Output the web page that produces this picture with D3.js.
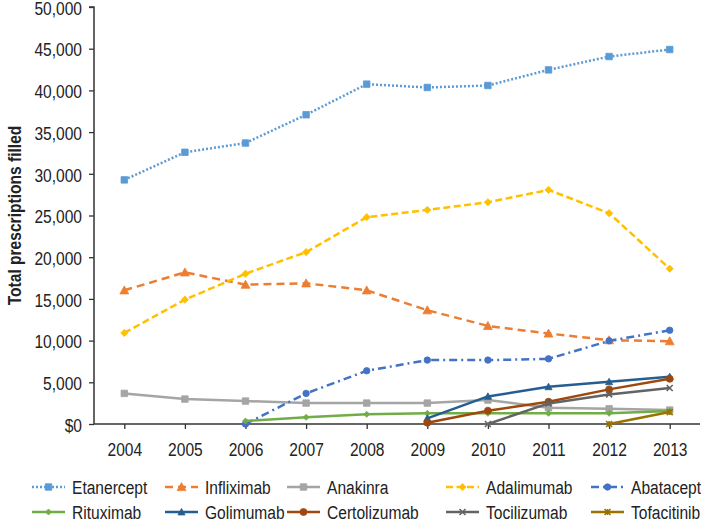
<!DOCTYPE html>
<html><head><meta charset="utf-8">
<script src="https://cdn.jsdelivr.net/npm/d3@7"></script>
<style>
html,body{margin:0;padding:0;background:#fff;}
svg{display:block;}
text{font-family:"Liberation Sans",Arial,sans-serif;fill:#222;}
</style></head>
<body><svg id="c" width="701" height="526"></svg>
<script>
const years = ["2004","2005","2006","2007","2008","2009","2010","2011","2012","2013"];
const yTicks = [0,5000,10000,15000,20000,25000,30000,35000,40000,45000,50000];
const yTickLabels = ["$0","5,000","10,000","15,000","20,000","25,000","30,000","35,000","40,000","45,000","50,000"];
const yTitle = "Total prescriptions filled";

const etanercept   = [29270,32580,33690,37080,40750,40350,40590,42460,44060,44900];
const infliximab   = [16030,18180,16710,16870,16030,13640,11760,10850,10050,9930];
const anakinra     = [3670,2990,2750,2510,2510,2510,2870,1950,1830,1670];
const adalimumab   = [10920,14910,18020,20610,24800,25670,26590,28070,25280,18620];
const abatacept    = [null,null,0,3670,6380,7660,7660,7810,9970,11240];
const rituximab    = [null,null,360,800,1160,1280,1280,1280,1280,1560];
const golimumab    = [null,null,null,null,null,680,3310,4460,5060,5660];
const certolizumab = [null,null,null,null,null,160,1600,2670,4150,5420];
const tocilizumab  = [null,null,null,null,null,null,0,2470,3550,4310];
const tofacitinib  = [null,null,null,null,null,null,null,null,0,1430];

const series = [
  {name:"Etanercept",   values:etanercept,   color:"#5B9BD5", dash:"2,2",      marker:"square",   ms:6.5},
  {name:"Infliximab",   values:infliximab,   color:"#ED7D31", dash:"8,5",      marker:"triangle", ms:8},
  {name:"Anakinra",     values:anakinra,     color:"#A5A5A5", dash:null,       marker:"square",   ms:6.5},
  {name:"Adalimumab",   values:adalimumab,   color:"#FFC000", dash:"7,3.5",    marker:"diamond",  ms:6},
  {name:"Abatacept",    values:abatacept,    color:"#4472C4", dash:"8,4,2,4",  marker:"circle",   ms:6.5},
  {name:"Rituximab",    values:rituximab,    color:"#70AD47", dash:null,       marker:"diamond",  ms:5},
  {name:"Golimumab",    values:golimumab,    color:"#255E91", dash:null,       marker:"triangle", ms:6.5},
  {name:"Certolizumab", values:certolizumab, color:"#9E480E", dash:null,       marker:"circle",   ms:7},
  {name:"Tocilizumab",  values:tocilizumab,  color:"#636363", dash:null,       marker:"x",        ms:6},
  {name:"Tofacitinib",  values:tofacitinib,  color:"#997300", dash:null,       marker:"star",     ms:6}
];

const svg = d3.select("#c");
const pL = 94, pR = 700, pT = 7, pB = 424;
const x = d3.scalePoint().domain(years).range([pL, pR]).padding(0.5);
const y = d3.scaleLinear().domain([0,50000]).range([pB, pT]);
const FS = 19, SX = 0.82;

// axes
const yAxis = d3.axisLeft(y).tickValues(yTicks).tickSize(5).tickPadding(7)
  .tickFormat((d,i)=>yTickLabels[i]);
const gy = svg.append("g").attr("transform",`translate(${pL},0)`).call(yAxis);
gy.select(".domain").attr("stroke","#333").attr("stroke-width",1.5).attr("d",`M-5,${pT}H0V${pB}`);
gy.selectAll(".tick line").attr("stroke","#333").attr("stroke-width",1.3);
gy.selectAll(".tick text").attr("font-size",FS).attr("fill","#222").attr("dy","0.38em")
  .attr("x",-12/SX).attr("transform",`scale(${SX},1)`);

const xAxis = d3.axisBottom(x).tickSize(5).tickPadding(14);
const gx = svg.append("g").attr("transform",`translate(0,${pB})`).call(xAxis);
gx.select(".domain").attr("stroke","#333").attr("stroke-width",1.5).attr("d",`M${pL},0H${pR}`);
gx.selectAll(".tick line").attr("stroke","#333").attr("stroke-width",1.3);
gx.selectAll(".tick text").attr("font-size",FS).attr("fill","#222").attr("transform",`scale(${SX},1)`);
svg.selectAll("g").attr("font-family",null).attr("font-size",null);

svg.append("text").attr("transform",`translate(21,${(pT+pB)/2}) rotate(-90) scale(${SX},1)`)
  .attr("text-anchor","middle").attr("font-size",FS).attr("font-weight","bold").text(yTitle);

function markerPath(type, s){
  const h = s/2;
  switch(type){
    case "square": return `M${-h},${-h}h${s}v${s}h${-s}Z`;
    case "triangle": return `M0,${-h*1.1}L${h*1.1},${h*0.9}L${-h*1.1},${h*0.9}Z`;
    case "diamond": return `M0,${-h*1.2}L${h*1.2},0L0,${h*1.2}L${-h*1.2},0Z`;
    case "circle": return `M${h},0A${h},${h},0,1,1,${-h},0A${h},${h},0,1,1,${h},0Z`;
    case "x": return `M${-h},${-h}L${h},${h}M${h},${-h}L${-h},${h}`;
    case "star": return `M${-h},${-h}L${h},${h}M${h},${-h}L${-h},${h}M0,${-h}V${h}`;
  }
}
function drawMarker(g, s, cx, cy){
  const open = (s.marker==="x"||s.marker==="star");
  g.append("path").attr("transform",`translate(${cx},${cy})`).attr("d",markerPath(s.marker,s.ms))
    .attr("fill", open ? "none" : s.color).attr("stroke", s.color).attr("stroke-width", open?1.6:0.8);
}

const line = d3.line().defined(d=>d.v!==null).x(d=>x(d.year)).y(d=>y(d.v));
const plot = svg.append("g");
series.forEach(s=>{
  const pts = years.map((yr,i)=>({year:yr, v:s.values[i]}));
  plot.append("path").datum(pts).attr("d",line).attr("fill","none")
    .attr("stroke",s.color).attr("stroke-width",2.5)
    .attr("stroke-dasharray",s.dash).attr("stroke-linejoin","round");
  const g = plot.append("g");
  pts.filter(d=>d.v!==null).forEach(d=>drawMarker(g,s,x(d.year),y(d.v)));
});

// legend
const colX = [72,205,327,486,631];
const rowY = [487,512];
const leg = svg.append("g");
series.forEach((s,i)=>{
  const cx = colX[i%5], cy = rowY[Math.floor(i/5)];
  const x0 = cx-40, x1 = cx-7;
  leg.append("path").attr("d",`M${x0},${cy}H${x1}`).attr("stroke",s.color).attr("stroke-width",2.5)
    .attr("stroke-dasharray",s.dash).attr("fill","none");
  drawMarker(leg,s,(x0+x1)/2,cy);
  leg.append("text").attr("transform",`translate(${cx},${cy}) scale(${SX},1)`)
    .attr("dy","0.35em").attr("font-size",FS).text(s.name);
});
</script></body></html>
